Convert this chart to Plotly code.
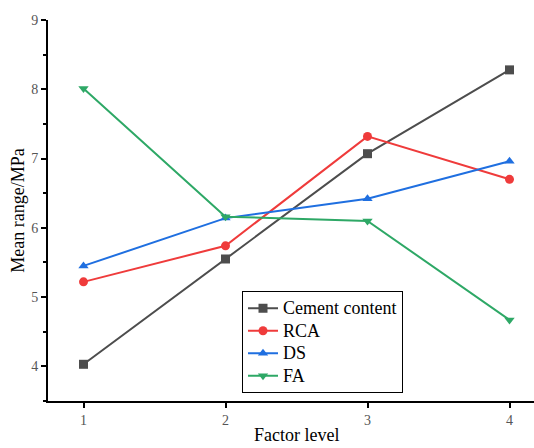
import plotly.graph_objects as go

levels = [1, 2, 3, 4]
cement_content = [4.03, 5.55, 7.07, 8.28]
rca = [5.22, 5.74, 7.32, 6.70]
ds = [5.45, 6.14, 6.42, 6.96]
fa = [8.01, 6.16, 6.10, 4.67]

series = [
    ("Cement content", cement_content, "#4d4d4d", "square"),
    ("RCA", rca, "#ef3b3b", "circle"),
    ("DS", ds, "#1f6fe0", "triangle-up"),
    ("FA", fa, "#2ea866", "triangle-down"),
]

FONT = "Liberation Serif, Times New Roman, serif"

fig = go.Figure()
for name, vals, color, sym in series:
    fig.add_trace(go.Scatter(
        x=levels, y=vals, mode="lines+markers",
        name=f"<span style='font-size:18px'>{name}</span>",
        line=dict(color=color, width=2),
        marker=dict(symbol=sym, size=9, color=color),
    ))

fig.update_layout(
    width=534, height=448,
    margin=dict(l=48, r=0, t=20, b=47),
    plot_bgcolor="white", paper_bgcolor="white",
    font=dict(family=FONT, size=15, color="black"),
    showlegend=True,
    legend=dict(
        x=(242 - 48) / 486, y=(401 - 291) / 381, xanchor="left", yanchor="top",
        bordercolor="black", borderwidth=1, bgcolor="white",
        font=dict(family=FONT, size=15, color="black"),
        tracegroupgap=0, itemwidth=30,
    ),
    annotations=[dict(
        text="Factor level", xref="paper", yref="paper",
        x=(296 - 48) / 486, y=-(447 - 401) / 381, xanchor="center", yanchor="bottom",
        showarrow=False, font=dict(family=FONT, size=18, color="black"),
    )],
)

fig.update_xaxes(
    range=[0.75, 0.75 + 486 / 142], tickvals=levels,
    showline=True, linecolor="black", linewidth=2, mirror=False,
    ticks="outside", ticklen=5, tickwidth=2, tickcolor="black",
    tickfont=dict(family=FONT, size=14, color="#555555"),
    showgrid=False, zeroline=False,
)
fig.update_yaxes(
    range=[3.5, 9], tickvals=[4, 5, 6, 7, 8, 9],
    showline=True, linecolor="black", linewidth=2,
    ticks="outside", ticklen=5, tickwidth=2, tickcolor="black",
    tickfont=dict(family=FONT, size=14, color="#555555"),
    minor=dict(tickvals=[3.5, 4.5, 5.5, 6.5, 7.5, 8.5], ticks="outside", ticklen=3, tickwidth=2, tickcolor="black"),
    title=dict(text="Mean range/MPa", font=dict(family=FONT, size=18, color="black"), standoff=2),
    showgrid=False, zeroline=False,
)

fig.write_html("out.html")
